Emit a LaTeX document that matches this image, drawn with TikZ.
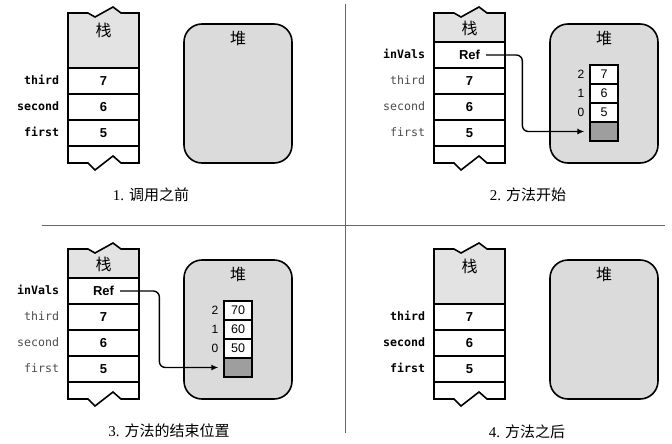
\documentclass[tikz,border=0pt]{standalone}
\usepackage{fontspec}
\setmainfont{Liberation Serif}
\setsansfont{Liberation Sans}
\setmonofont{DejaVu Sans Mono}
\newfontfamily\cjk{Noto Sans CJK SC}
\usetikzlibrary{positioning,arrows.meta}
\definecolor{hdgray}{gray}{0.89}
\definecolor{heapgray}{gray}{0.86}
\definecolor{slotgray}{gray}{0.62}
\definecolor{lblgray}{gray}{0.3}
\definecolor{rulegray}{gray}{0.4}
\begin{document}
\begin{tikzpicture}[x=1pt,y=-1pt,
  stk/.style={draw,fill=white,line width=1.6pt,minimum width=71pt,minimum height=26pt,inner sep=0pt,font=\fontsize{13}{13}\selectfont\sffamily\bfseries},
  hdr/.style={draw,fill=hdgray,line width=1.6pt},
  rim/.style={draw,line width=1.6pt},
  zh/.style={inner sep=0pt,font=\cjk\fontsize{16}{16}\selectfont},
  varlbl/.style={inner sep=0pt,text=lblgray,text height=8pt,text depth=1pt,font=\fontsize{11.6}{11.6}\selectfont\ttfamily},
  varon/.style={varlbl,text=black,font=\fontsize{11.6}{11.6}\selectfont\ttfamily\bfseries},
  heap/.style={draw,fill=heapgray,line width=1.6pt,rounded corners=18pt,minimum width=108pt,minimum height=139pt},
  arr/.style={draw,fill=white,line width=1.3pt,minimum width=28pt,minimum height=19pt,inner sep=0pt,font=\fontsize{12.5}{12.5}\selectfont\sffamily},
  idx/.style={inner sep=0pt,font=\fontsize{12}{12}\selectfont\sffamily},
  val/.style={inner sep=0pt,font=\fontsize{13}{13}\selectfont\sffamily\bfseries},
  ptr/.style={line width=1.4pt,rounded corners=6pt,-{Latex[length=7pt,width=6pt]}},
  caption/.style={inner sep=0pt,font=\fontsize{15}{15}\selectfont},
  divider/.style={draw=rulegray,line width=0.8pt}
]
\useasboundingbox (0,0) rectangle (672,444);
\draw[divider] (345,4) -- (345,433);
\draw[divider] (42,225) -- (665,225);
% 1
\begin{scope}[shift={(68,13)}]
  \filldraw[hdr] (0,0) -- (20,0) -- (27,4) -- (45,-6) -- (53,0) -- (71,0) -- (71,55) -- (0,55) -- cycle;
  \node[zh] (zhan1) at (35.5,17) {栈};
  \node[stk] (third1) at (35.5,68) {7};
  \node[stk] (second1) at (35.5,94) {6};
  \node[stk] (first1) at (35.5,120) {5};
  \draw[rim] (0,133) -- (0,150) -- (20,150) -- (27,157) -- (45,143) -- (53,150) -- (71,150) -- (71,133);
  \node[varon,left=8pt of third1] (lthird1) {third};
  \node[varon,left=8pt of second1] (lsecond1) {second};
  \node[varon,left=8pt of first1] (lfirst1) {first};
  \node[heap] (heap1) at (170,80.5) {};
  \node[zh] (dui1) at (170,25) {堆};
  \node[caption] (cap1) at (83,182) {1. {\cjk 调用之前}};
\end{scope}
% 2
\begin{scope}[shift={(434,13)}]
  \filldraw[hdr] (0,0) -- (20,0) -- (27,4) -- (45,-6) -- (53,0) -- (71,0) -- (71,29) -- (0,29) -- cycle;
  \node[zh] (zhan2) at (35.5,15) {栈};
  \node[stk] (in2) at (35.5,42) {};
  \node[val] (ref2) at (in2) {Ref};
  \node[stk] (third2) at (35.5,68) {7};
  \node[stk] (second2) at (35.5,94) {6};
  \node[stk] (first2) at (35.5,120) {5};
  \draw[rim] (0,133) -- (0,150) -- (20,150) -- (27,157) -- (45,143) -- (53,150) -- (71,150) -- (71,133);
  \node[varon,left=8pt of in2] (lin2) {inVals};
  \node[varlbl,left=8pt of third2] (lthird2) {third};
  \node[varlbl,left=8pt of second2] (lsecond2) {second};
  \node[varlbl,left=8pt of first2] (lfirst2) {first};
  \node[heap] (heap2) at (170,80.5) {};
  \node[zh] (dui2) at (170,25) {堆};
  \node[arr] (a2x2) at (170,61.5) {7};
  \node[arr] (a2x1) at (170,80.5) {6};
  \node[arr] (a2x0) at (170,99.5) {5};
  \node[arr,fill=slotgray] (slot2) at (170,118.5) {};
  \node[idx] (i2x2) at (147,61.5) {2};
  \node[idx] (i2x1) at (147,80.5) {1};
  \node[idx] (i2x0) at (147,99.5) {0};
  \draw[ptr] ([xshift=6pt]ref2.east) -| ([xshift=-67pt]slot2.west) -- ([xshift=-5pt]slot2.west);
  \node[caption] (cap2) at (94,182) {2. {\cjk 方法开始}};
\end{scope}
% 3
\begin{scope}[shift={(68,249)}]
  \filldraw[hdr] (0,0) -- (20,0) -- (27,4) -- (45,-6) -- (53,0) -- (71,0) -- (71,29) -- (0,29) -- cycle;
  \node[zh] (zhan3) at (35.5,15) {栈};
  \node[stk] (in3) at (35.5,42) {};
  \node[val] (ref3) at (in3) {Ref};
  \node[stk] (third3) at (35.5,68) {7};
  \node[stk] (second3) at (35.5,94) {6};
  \node[stk] (first3) at (35.5,120) {5};
  \draw[rim] (0,133) -- (0,150) -- (20,150) -- (27,157) -- (45,143) -- (53,150) -- (71,150) -- (71,133);
  \node[varon,left=8pt of in3] (lin3) {inVals};
  \node[varlbl,left=8pt of third3] (lthird3) {third};
  \node[varlbl,left=8pt of second3] (lsecond3) {second};
  \node[varlbl,left=8pt of first3] (lfirst3) {first};
  \node[heap] (heap3) at (170,80.5) {};
  \node[zh] (dui3) at (170,25) {堆};
  \node[arr] (a3x2) at (170,61.5) {70};
  \node[arr] (a3x1) at (170,80.5) {60};
  \node[arr] (a3x0) at (170,99.5) {50};
  \node[arr,fill=slotgray] (slot3) at (170,118.5) {};
  \node[idx] (i3x2) at (147,61.5) {2};
  \node[idx] (i3x1) at (147,80.5) {1};
  \node[idx] (i3x0) at (147,99.5) {0};
  \draw[ptr] ([xshift=6pt]ref3.east) -| ([xshift=-64pt]slot3.west) -- ([xshift=-5pt]slot3.west);
  \node[caption] (cap3) at (101,182) {3. {\cjk 方法的结束位置}};
\end{scope}
% 4
\begin{scope}[shift={(434,249)}]
  \filldraw[hdr] (0,0) -- (20,0) -- (27,4) -- (45,-6) -- (53,0) -- (71,0) -- (71,55) -- (0,55) -- cycle;
  \node[zh] (zhan4) at (35.5,17) {栈};
  \node[stk] (third4) at (35.5,68) {7};
  \node[stk] (second4) at (35.5,94) {6};
  \node[stk] (first4) at (35.5,120) {5};
  \draw[rim] (0,133) -- (0,150) -- (20,150) -- (27,157) -- (45,143) -- (53,150) -- (71,150) -- (71,133);
  \node[varon,left=8pt of third4] (lthird4) {third};
  \node[varon,left=8pt of second4] (lsecond4) {second};
  \node[varon,left=8pt of first4] (lfirst4) {first};
  \node[heap] (heap4) at (170,80.5) {};
  \node[zh] (dui4) at (170,25) {堆};
  \node[caption] (cap4) at (93,183) {4. {\cjk 方法之后}};
\end{scope}
\end{tikzpicture}
\end{document}
